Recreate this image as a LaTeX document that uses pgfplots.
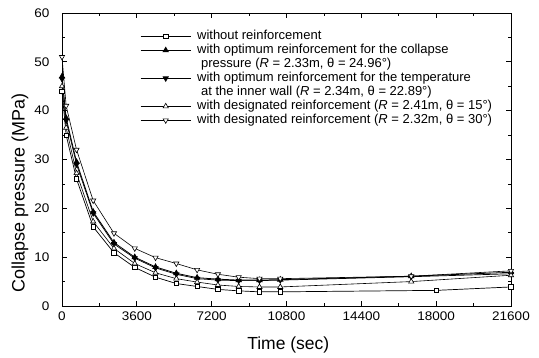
\documentclass[border=0pt]{standalone}
\usepackage{fontspec}
\setmainfont{Liberation Sans}
\newfontfamily\tickfont{Liberation Sans}[FakeStretch=1.08]
\usepackage{pgfplots}
\pgfplotsset{compat=1.18}
\begin{document}
\begin{tikzpicture}
\begin{axis}[
  scale only axis, width=449pt, height=293pt,
  at={(0pt,0pt)}, anchor=south west,
  xmin=0, xmax=21600, ymin=0, ymax=60,
  xtick={0,3600,...,21600}, minor x tick num=1,
  ytick={0,10,...,60}, minor y tick num=1,
  tick align=inside, major tick length=5pt, minor tick length=3pt,
  axis line style={line width=0.9pt},
  tick style={black, line width=0.7pt},
  /pgf/number format/assume math mode=true,
  /pgf/number format/1000 sep={},
  scaled x ticks=false,
  ticklabel style={font=\tickfont\fontsize{12.5}{14}\selectfont},
  xticklabel style={yshift=-2.5pt},
  yticklabel style={xshift=-9pt},
  xlabel={Time (sec)}, ylabel={Collapse pressure (MPa)},
  xlabel style={font=\fontsize{17.5}{20}\selectfont, at={(axis description cs:0.504,-0.133)}, anchor=center},
  ylabel style={font=\fontsize{18}{22}\selectfont, at={(axis description cs:-0.0935,0.385)}, anchor=center},
  legend cell align=left,
  legend style={at={(axis description cs:0.174,0.945)}, anchor=north west,
    draw=none, fill=none, inner sep=0pt, column sep=6pt,
    font=\fontsize{13}{14}\selectfont,
    nodes={inner sep=0pt, text height=10pt, text depth=4pt}},
  legend image code/.code={\draw[mark repeat=2, mark phase=2] plot coordinates {(0pt,0pt) (25pt,0pt) (50pt,0pt)};},
]
\addplot[black, line width=0.7pt, mark=square*, mark size=2.2pt, mark options={fill=white, solid}]
  coordinates {(0,44)(200,35)(700,26)(1500,16.2)(2500,10.9)(3500,7.9)(4500,5.9)(5500,4.6)(6500,4.0)(7500,3.4)(8500,3.1)(9500,2.9)(10500,2.9)(18000,3.2)(21600,3.9)};
\addlegendentry{without reinforcement}
\addplot[black, line width=0.8pt, mark=triangle*, mark size=3pt, mark options={fill=black, solid}]
  coordinates {(0,47)(200,38.5)(700,29.5)(1500,19.3)(2500,13.0)(3500,10.0)(4500,8.0)(5500,6.7)(6500,5.8)(7500,5.5)(8500,5.3)(9500,5.3)(10500,5.4)(16800,6.1)(21600,6.9)};
\addlegendentry{with optimum reinforcement for the collapse}
\addlegendimage{empty legend}
\addlegendentry{\hspace{4pt}pressure (\textit{R} = 2.33m, θ = 24.96°)}
\addplot[black, line width=0.7pt, mark=triangle*, mark size=3pt, mark options={fill=black, solid, rotate=180}]
  coordinates {(0,46.5)(200,38)(700,29)(1500,19.0)(2500,12.7)(3500,9.8)(4500,7.8)(5500,6.5)(6500,5.6)(7500,5.3)(8500,5.2)(9500,5.2)(10500,5.3)(16800,6.0)(21600,6.6)};
\addlegendentry{with optimum reinforcement for the temperature}
\addlegendimage{empty legend}
\addlegendentry{\hspace{4pt}at the inner wall (\textit{R} = 2.34m, θ = 22.89°)}
\addplot[black, line width=0.6pt, mark=triangle*, mark size=3pt, mark options={fill=white, solid}]
  coordinates {(0,45)(200,36.5)(700,27.2)(1500,17.3)(2500,11.8)(3500,8.7)(4500,6.8)(5500,5.6)(6500,4.9)(7500,4.3)(8500,4.0)(9500,3.9)(10500,3.9)(16800,5.0)(21600,6.3)};
\addlegendentry{with designated reinforcement (\textit{R} = 2.41m, θ = 15°)}
\addplot[black, line width=0.6pt, mark=triangle*, mark size=3pt, mark options={fill=white, solid, rotate=180}]
  coordinates {(0,51)(200,41)(700,32)(1500,21.6)(2500,14.9)(3500,11.8)(4500,9.9)(5500,8.7)(6500,7.4)(7500,6.5)(8500,5.9)(9500,5.6)(10500,5.6)(16800,6.1)(21600,7.2)};
\addlegendentry{with designated reinforcement (\textit{R} = 2.32m, θ = 30°)}
\end{axis}
\path (-62pt,-51pt) rectangle (477pt,306pt);
\end{tikzpicture}
\end{document}
